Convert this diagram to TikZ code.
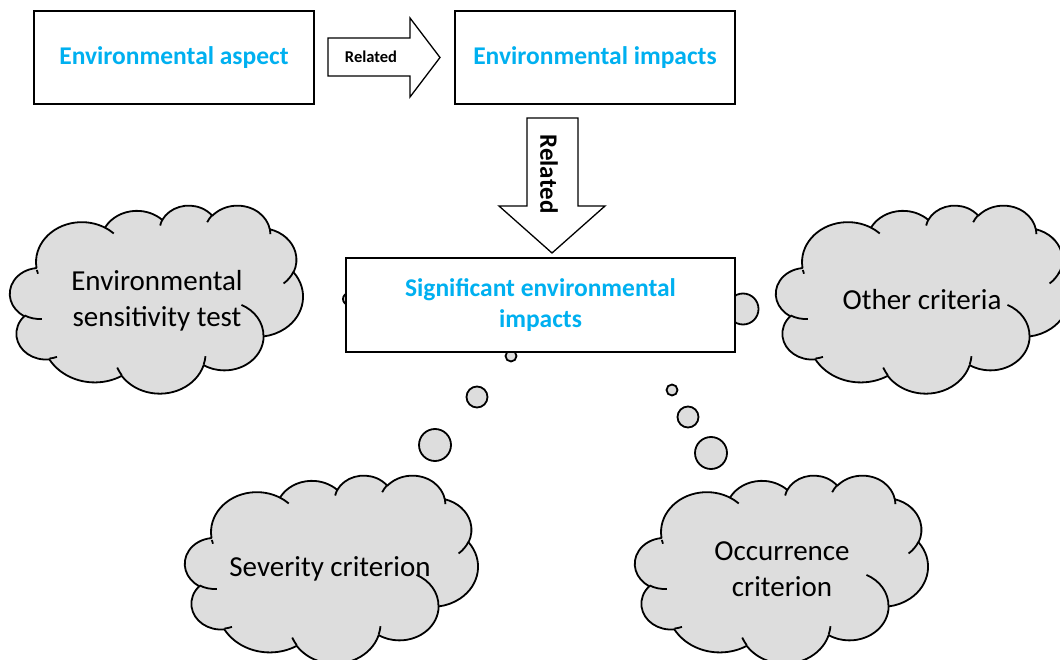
\documentclass[tikz,border=0pt]{standalone}
\usepackage{fontspec}
\setmainfont{Carlito}
\usepackage{tikz}
\definecolor{cyantext}{RGB}{0,176,240}
\definecolor{cloudgray}{RGB}{221,221,221}

% PowerPoint-like cloud outline (units: 4320 x 4320), angles are visual angles
\def\cloudouter{(390pt,1437pt)}
\def\cloudinner{}
\newcommand\addarc[5]{%
  \pgfmathsetmacro\cta{atan2(#2*sin(#4),#3*cos(#4))}%
  \pgfmathsetmacro\ctb{atan2(#2*sin(#4+#5),#3*cos(#4+#5))}%
  \pgfmathsetmacro\cdd{\ctb-\cta}%
  \pgfmathsetmacro\cdd{\cdd+360*and(#5>0,\cdd<0)-360*and(#5<0,\cdd>0)}%
  \pgfmathsetmacro\cte{\cta+\cdd}%
  \xdef#1{#1 arc[start angle=\cta,end angle=\cte,x radius=#2pt,y radius=#3pt]}%
}
\newcommand\addinner[6]{%
  \xdef\cloudinner{\cloudinner (#1pt,#2pt)}%
  \addarc\cloudinner{#3}{#4}{#5}{#6}}
\addarc\cloudouter{675.3}{919}{-190.4875}{123.7805}
\addarc\cloudouter{533.3}{726.7}{-144.1024}{89.9452}
\addarc\cloudouter{436.5}{594.5}{-145.8079}{99.7230}
\addarc\cloudouter{485.7}{659.5}{-130.9861}{117.2417}
\addarc\cloudouter{533.3}{727.3}{-78.7089}{109.0269}
\addarc\cloudouter{677.5}{922}{-46.2673}{130.2690}
\addarc\cloudouter{578.5}{786.7}{0.6250}{114.0333}
\addarc\cloudouter{675.2}{921.5}{22.4516}{115.1726}
\addarc\cloudouter{772}{1054.3}{66.2426}{75.7110}
\addarc\cloudouter{436}{591.8}{-274.9421}{146.7356}
\addarc\cloudouter{434.5}{594.5}{-246.8285}{152.5189}
\addinner{469.3}{2617.7}{434.5}{594.5}{86.7420}{26.4295}
\addinner{692.8}{3489.9}{436}{591.8}{73.6105}{11.4475}
\addinner{1647.8}{3909}{675.2}{921.5}{137.6242}{14.0811}
\addinner{2882.7}{3475.1}{675.2}{921.5}{6.4533}{15.9984}
\addinner{3412.9}{2295.4}{578.5}{786.7}{-70.2924}{70.9174}
\addinner{4179.8}{1535.4}{533.3}{727.3}{30.3180}{27.7515}
\addinner{3832.4}{542.6}{485.7}{659.5}{-13.7443}{14.8512}
\addinner{2907.8}{395.2}{485.7}{659.5}{-149.1815}{18.1962}
\addinner{2214.1}{472}{436.5}{594.5}{-163.4943}{17.6864}
\addinner{1400}{519.2}{675.3}{919}{-66.7070}{12.3194}
\addinner{412.7}{1578.9}{675.3}{919}{156.6223}{7.1585}

\newcommand\cloudshape[4]{%
  \begin{scope}[shift={(#1,#2)},xscale=#3/4320,yscale=-#4/4320]
    \filldraw[cloudbody] \cloudouter -- cycle;
    \draw[cloudbody,fill=none] \cloudinner;
  \end{scope}}

\begin{document}
\begin{tikzpicture}[x=1pt,y=-1pt,
  box/.style={draw=black,line width=2.6pt,fill=white,inner sep=0pt},
  btext/.style={font=\bfseries\fontsize{25.5}{30.5}\selectfont,text=cyantext,align=center},
  ctext/.style={font=\fontsize{29}{36}\selectfont,align=center,inner sep=0pt},
  cloudbody/.style={draw=black,line width=1.8pt,fill=cloudgray,line join=round},
  bubble/.style={draw=black,line width=1.8pt,fill=cloudgray},
  fatarrow/.style={draw=black,line width=1.3pt,fill=white,line join=miter},
  reltext/.style={font=\bfseries,inner sep=0pt}]

\useasboundingbox (0,0) rectangle (1060,660);
\clip (0,0) rectangle (1060,660);

% clouds
\cloudshape{10}{205}{293}{188}
\cloudshape{776}{205}{293}{188}
\cloudshape{185}{475}{293}{188}
\cloudshape{635}{475}{293}{188}

% thought bubbles
\draw[bubble] (349,299) circle[radius=6];
\draw[bubble] (743,309) circle[radius=15.5];
\draw[bubble] (511,356) circle[radius=5.5];
\draw[bubble] (477,397) circle[radius=10.5];
\draw[bubble] (435,445) circle[radius=16];
\draw[bubble] (672,390) circle[radius=5.5];
\draw[bubble] (688,417) circle[radius=10.5];
\draw[bubble] (711,453) circle[radius=16];

% cloud texts
\node[ctext] (sens) at (157,301) {Environmental\\sensitivity test};
\node[ctext] (other) at (922,300) {Other criteria};
\node[ctext] (sev) at (330,569) {Severity criterion};
\node[ctext] (occ) at (782,569) {Occurrence\\criterion};

% boxes
\node[box,minimum width=280pt,minimum height=93pt] (asp) at (174,57.5) {};
\node[btext] at (asp.center) {Environmental aspect};
\node[box,minimum width=280pt,minimum height=93pt] (imp) at (595,57.5) {};
\node[btext] at (imp.center) {Environmental impacts};
\node[box,minimum width=389pt,minimum height=94pt] (sig) at (540.5,305) {};
\node[btext] at (sig.center) {Significant environmental\\impacts};

% block arrows
\draw[fatarrow] (328,38) -- (410,38) -- (410,18) -- (440,57.5) -- (410,97) -- (410,76) -- (328,76) -- cycle;
\node[reltext,font=\bfseries\fontsize{16.5}{20}\selectfont] (rel1) at (371,57) {Related};
\draw[fatarrow] (527,118) -- (578,118) -- (578,206) -- (605,206) -- (552,253) -- (499,206) -- (527,206) -- cycle;
\node[reltext,font=\bfseries\fontsize{25}{30}\selectfont,rotate=-90] (rel2) at (549,174) {Related};
\end{tikzpicture}
\end{document}
